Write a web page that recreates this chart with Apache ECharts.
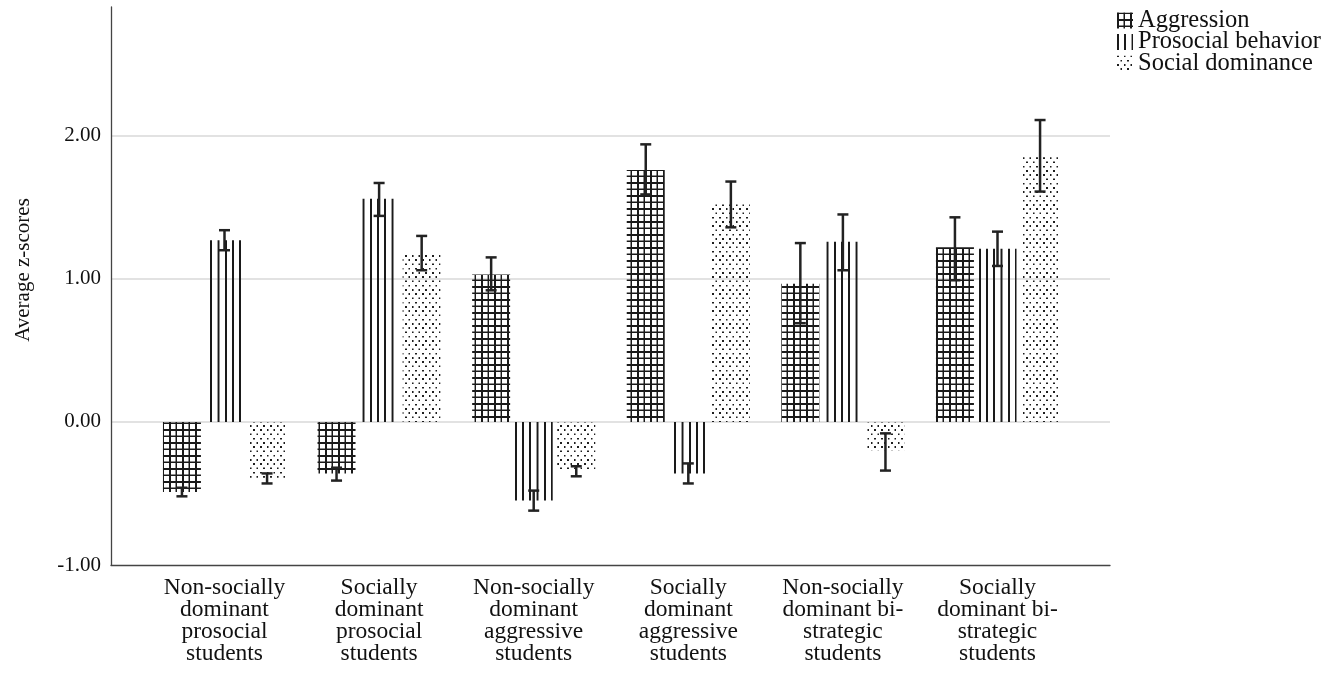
<!DOCTYPE html>
<html>
<head>
<meta charset="utf-8">
<script src="https://cdn.jsdelivr.net/npm/echarts@6/dist/echarts.min.js"></script>
<style>
html,body{margin:0;padding:0;background:#fff;}
#chart{width:1335px;height:674px;}
</style>
</head>
<body>
<div id="chart"></div>
<script>
// ---- data ----
const categories = [
  'Non-socially\ndominant\nprosocial\nstudents',
  'Socially\ndominant\nprosocial\nstudents',
  'Non-socially\ndominant\naggressive\nstudents',
  'Socially\ndominant\naggressive\nstudents',
  'Non-socially\ndominant bi-\nstrategic\nstudents',
  'Socially\ndominant bi-\nstrategic\nstudents'
];
const seriesNames = ['Aggression', 'Prosocial behavior', 'Social dominance'];
const aggression = [-0.49, -0.36, 1.03, 1.76, 0.965, 1.22];
const aggressionLow = [-0.52, -0.41, 0.92, 1.59, 0.69, 0.99];
const aggressionHigh = [-0.46, -0.32, 1.15, 1.94, 1.25, 1.43];
const prosocial = [1.27, 1.56, -0.55, -0.36, 1.26, 1.21];
const prosocialLow = [1.20, 1.44, -0.62, -0.43, 1.06, 1.09];
const prosocialHigh = [1.34, 1.67, -0.48, -0.29, 1.45, 1.33];
const dominance = [-0.39, 1.17, -0.35, 1.52, -0.20, 1.85];
const dominanceLow = [-0.43, 1.06, -0.38, 1.36, -0.34, 1.61];
const dominanceHigh = [-0.36, 1.30, -0.31, 1.68, -0.08, 2.11];
const yTicks = [-1, 0, 1, 2];
const yMin = -1, yMax = 2.9;

// ---- patterns ----
const RES = 4;
function makePattern(w, h, draw) {
  const c = document.createElement('canvas');
  c.width = Math.round(w * RES); c.height = Math.round(h * RES);
  const ctx = c.getContext('2d');
  draw(ctx, c.width, c.height);
  return { image: c, repeat: 'repeat', scaleX: 1 / RES, scaleY: 1 / RES };
}
const INK = '#1a1a1a';
const gridPat = makePattern(6.5, 6.5, (ctx, w, h) => {
  ctx.fillStyle = INK;
  ctx.fillRect(0, 0, w, 7);
  ctx.fillRect(0, 0, 7, h);
});
const vlinePat = makePattern(7.3, 1, (ctx, w, h) => {
  ctx.fillStyle = INK;
  ctx.fillRect(0, 0, 8, h);
});
const dotPat = makePattern(6.7, 8.4, (ctx, w, h) => {
  ctx.fillStyle = '#1e1e1e';
  ctx.fillRect(0, 0, 7, 7);
  ctx.fillRect(Math.round(w / 2), Math.round(h / 2), 7, 7);
});
const patterns = [gridPat, vlinePat, dotPat];

// ---- layout ----
const BAR_W = 38;
const BAR_GAP = 0.12;
const FONT = "'Liberation Serif', 'Times New Roman', serif";

const values = [aggression, prosocial, dominance];
const lows = [aggressionLow, prosocialLow, dominanceLow];
const highs = [aggressionHigh, prosocialHigh, dominanceHigh];

const errData = [];
for (let s = 0; s < 3; s++) {
  for (let i = 0; i < categories.length; i++) {
    errData.push([i, lows[s][i], highs[s][i], s]);
  }
}

const barSeries = seriesNames.map((name, s) => ({
  name: name,
  type: 'bar',
  xAxisIndex: 1,
  yAxisIndex: 1,
  barWidth: BAR_W,
  barGap: (BAR_GAP * 100) + '%',
  data: values[s],
  itemStyle: { color: patterns[s] },
  emphasis: { disabled: true },
  z: 2
}));

const errSeries = {
  type: 'custom',
  xAxisIndex: 1,
  yAxisIndex: 1,
  z: 5,
  silent: true,
  encode: { x: 0, y: [1, 2] },
  data: errData,
  renderItem: function (params, api) {
    const c = api.value(0), lo = api.value(1), hi = api.value(2), s = api.value(3);
    const off = (s - 1) * (BAR_W * (1 + BAR_GAP));
    const x = api.coord([c, 0])[0] + off;
    const y1 = api.coord([c, lo])[1];
    const y2 = api.coord([c, hi])[1];
    const cap = 5.5;
    const st = { stroke: '#222', lineWidth: 2.5 };
    return {
      type: 'group',
      children: [
        { type: 'line', shape: { x1: x, y1: y1, x2: x, y2: y2 }, style: st },
        { type: 'line', shape: { x1: x - cap, y1: y1, x2: x + cap, y2: y1 }, style: st },
        { type: 'line', shape: { x1: x - cap, y1: y2, x2: x + cap, y2: y2 }, style: st }
      ]
    };
  }
};

const chart = echarts.init(document.getElementById('chart'), null, { renderer: 'canvas' });
chart.setOption({
  animation: false,
  backgroundColor: '#fff',
  textStyle: { fontFamily: FONT },
  grid: [
    { left: 111, right: 225, top: 7, bottom: 109, outerBoundsMode: 'none', containLabel: false },
    { left: 147.2, right: 260.2, top: 7, bottom: 109, outerBoundsMode: 'none', containLabel: false }
  ],
  legend: {
    orient: 'vertical',
    left: 1117,
    top: 8,
    padding: 0,
    itemWidth: 16,
    itemHeight: 16,
    itemGap: -3.5,
    itemTextGap: 3,
    icon: 'rect',
    selectedMode: false,
    data: seriesNames,
    textStyle: { fontFamily: FONT, fontSize: 24.5, color: '#111', overflow: 'none' }
  },
  xAxis: [
    {
      type: 'value', gridIndex: 0, min: 0, max: 1,
      axisLine: { show: true, onZero: false, lineStyle: { color: '#444', width: 1.3 } },
      axisTick: { show: false }, axisLabel: { show: false }, splitLine: { show: false }
    },
    {
      type: 'category', gridIndex: 1, data: categories,
      axisLine: { show: false }, axisTick: { show: false }, splitLine: { show: false },
      axisLabel: {
        interval: 0, margin: 12, fontFamily: FONT, fontSize: 23.5, lineHeight: 22,
        color: '#111', align: 'center'
      }
    }
  ],
  yAxis: [
    {
      type: 'value', gridIndex: 0, min: yMin, max: yMax, interval: 1,
      name: 'Average z-scores', nameLocation: 'middle', nameGap: 77, nameRotate: 90,
      nameTextStyle: { fontFamily: FONT, fontSize: 21, color: '#111', padding: [0, 0, 0, 32] },
      axisLine: { show: true, onZero: false, lineStyle: { color: '#444', width: 1.3 } },
      axisTick: { show: false },
      axisLabel: {
        margin: 10, fontFamily: FONT, fontSize: 21, color: '#111', showMaxLabel: false,
        formatter: v => (yTicks.indexOf(v) >= 0 ? v.toFixed(2) : '')
      },
      splitLine: { show: true, showMaxLine: false, showMinLine: false, lineStyle: { color: '#d9d9d9', width: 1.5 } }
    },
    {
      type: 'value', gridIndex: 1, min: yMin, max: yMax, interval: 1, show: false
    }
  ],
  series: barSeries.concat([errSeries])
});
</script>
</body>
</html>
